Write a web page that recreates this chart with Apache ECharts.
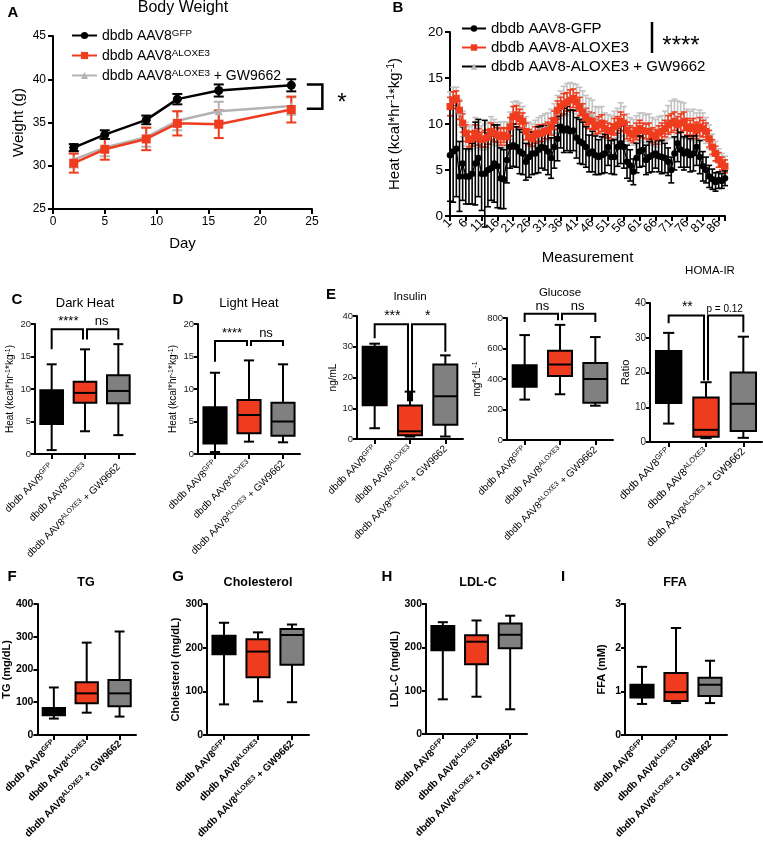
<!DOCTYPE html>
<html><head><meta charset="utf-8">
<script src="https://cdn.jsdelivr.net/npm/echarts@6/dist/echarts.min.js"></script>
<style>html,body{margin:0;padding:0;background:#fff}#c{width:763px;height:842px}</style>
</head><body><div id="c"></div><script>
const FF = '"Liberation Sans", Arial, Helvetica, sans-serif';
const RED = '#f03c1e';
const GREYBOX = '#808080';
const GREYLINE = '#b3b3b3';

// ---------- Panel A: Body weight ----------
const A_days = [2, 5, 9, 12, 16, 23];
const A_gfp = [32.1, 33.6, 35.3, 37.7, 38.7, 39.3];
const A_gfpErr = [0.4, 0.5, 0.5, 0.6, 0.7, 0.7];
const A_alox = [30.3, 31.9, 33.1, 34.9, 34.8, 36.5];
const A_aloxErr = [1.1, 1.2, 1.3, 1.4, 1.6, 1.5];
const A_gw = [30.7, 32.1, 33.3, 35.2, 36.3, 36.9];
const A_gwErr = [0.9, 1.0, 1.1, 1.1, 1.1, 1.0];
const A_sig = [[24.5, 26, 39.4, 36.6]];

// ---------- Panel B: Heat over measurements ----------
const B_measure = Array.from({length: 88}, (_, i) => String(i + 1));
const B_gfp = [
 6.6,7.0,7.3,4.3,5.7,4.3,4.3,4.6,5.7,6.3,
 4.6,4.6,5.0,5.2,5.7,5.4,4.1,4.0,6.1,7.5,
 7.7,7.5,7.0,6.8,5.9,6.4,6.8,6.8,7.2,7.5,
 7.4,7.0,6.3,7.5,8.4,9.7,9.3,9.5,9.2,9.3,
 8.5,8.1,7.9,7.5,6.8,7.0,6.6,6.4,6.6,6.8,
 7.5,6.4,6.4,7.5,7.9,7.5,5.9,5.5,4.8,6.3,
 7.0,7.2,6.1,6.4,6.6,6.8,6.5,6.4,6.3,5.9,
 5.0,6.8,7.9,7.2,6.8,7.0,6.6,6.8,7.5,6.4,
 5.4,5.0,4.3,4.0,3.7,3.9,3.8,4.1];
const B_gfpErr = [
 5.0,5.5,5.2,3.8,4.0,3.0,3.0,3.3,4.5,4.2,
 4.0,5.8,4.0,3.5,4.2,4.5,3.3,3.2,2.5,2.3,
 2.3,2.2,2.4,2.3,2.0,2.2,2.3,2.2,2.5,2.3,
 2.4,2.5,2.2,2.3,2.4,2.3,2.4,2.4,2.3,2.2,
 2.2,2.4,2.3,2.2,2.0,2.2,2.1,1.9,2.0,2.1,
 2.0,1.8,1.9,2.1,2.2,2.3,1.8,1.7,1.4,1.6,
 1.7,1.8,1.6,1.7,1.8,1.6,1.7,1.8,1.6,1.5,
 1.4,1.8,2.0,1.9,1.8,1.7,1.8,1.9,2.0,1.8,
 1.6,1.4,1.2,1.1,1.0,0.9,0.8,0.8];
const B_alox = [
 11.9,12.6,12.8,11.5,10.1,9.0,8.3,8.4,9.0,8.6,
 8.3,8.4,8.6,9.2,9.0,8.8,8.6,8.8,8.6,9.7,
 10.8,11.0,10.6,10.3,9.2,8.6,8.4,8.8,9.0,9.0,
 9.2,9.3,9.7,10.4,11.5,11.9,12.2,12.4,12.6,12.8,
 12.4,11.9,11.3,10.8,10.4,10.3,9.7,9.9,10.1,9.5,
 9.3,9.2,9.7,9.9,10.3,10.1,9.3,9.0,8.8,9.2,
 9.5,9.3,9.2,9.2,8.8,8.6,9.0,9.2,9.5,9.9,
 10.1,10.3,9.9,10.1,10.3,9.7,9.5,9.7,9.3,9.7,
 9.5,9.2,8.4,7.5,6.8,6.1,5.7,5.4];
const B_aloxErr = [
 1.0,0.9,0.8,1.0,1.0,0.9,0.8,0.8,0.9,0.9,
 0.8,0.9,0.8,0.9,0.9,0.8,0.9,0.8,0.9,1.0,
 1.1,1.0,1.0,0.9,0.9,0.8,0.8,0.9,0.9,0.9,
 0.8,0.9,0.9,1.0,1.0,1.0,1.1,1.0,1.1,1.0,
 1.0,1.0,0.9,0.9,0.9,0.9,0.8,0.9,0.9,0.8,
 0.8,0.8,0.9,0.9,1.0,0.9,0.9,0.8,0.8,0.9,
 0.9,0.8,0.8,0.9,0.8,0.8,0.8,0.9,0.9,1.0,
 1.0,1.0,0.9,1.0,1.0,0.9,0.9,0.9,0.9,1.0,
 0.9,0.9,0.9,0.8,0.8,0.8,0.7,0.7];
const B_gw = [
 12.2,12.8,12.9,11.3,10.0,8.9,8.4,8.6,9.2,8.8,
 8.5,8.6,8.8,9.3,9.1,8.9,8.8,8.9,8.8,9.8,
 10.9,11.1,10.9,10.5,9.5,8.9,8.7,9.0,9.3,9.4,
 9.6,9.7,10.0,10.6,11.6,12.1,12.5,12.7,12.9,12.9,
 12.7,12.3,11.9,11.5,11.1,11.0,10.4,10.3,10.4,9.8,
 9.6,9.4,9.9,10.1,10.5,10.3,9.6,9.3,9.1,9.4,
 9.7,9.6,9.5,9.5,9.2,9.0,9.3,9.5,9.8,10.2,
 10.5,10.6,10.3,10.4,10.5,10.0,9.8,9.9,9.6,9.9,
 9.7,9.3,8.6,7.7,7.0,6.3,5.9,5.6];
const B_gwErr = [
 1.3,1.2,1.1,1.4,1.4,1.3,1.3,1.3,1.5,1.4,
 1.3,1.4,1.4,1.5,1.4,1.3,1.4,1.3,1.4,1.5,
 1.5,1.4,1.4,1.4,1.3,1.3,1.3,1.4,1.4,1.5,
 1.5,1.5,1.6,1.6,1.5,1.5,1.6,1.7,1.6,1.5,
 1.6,1.7,1.7,1.6,1.7,1.6,1.5,1.5,1.5,1.4,
 1.4,1.5,1.5,1.6,1.8,1.6,1.5,1.4,1.4,1.5,
 1.5,1.6,1.5,1.6,1.5,1.5,1.5,1.4,1.6,1.8,
 2.0,2.1,2.2,2.0,1.8,1.6,1.6,1.7,1.6,1.6,
 1.5,1.4,1.3,1.2,1.1,1.0,0.9,0.9];

// ---------- Box panels: [min, Q1, median, Q3, max] ----------
const GROUPS = ['GFP', 'ALOXE3', 'ALOXE3 + GW9662'];
const GROUP_LABELS = [['dbdb AAV8', 'GFP', ''], ['dbdb AAV8', 'ALOXE3', ''], ['dbdb AAV8', 'ALOXE3', ' + GW9662']];
const C_dark = [[0.6, 4.6, 7.3, 9.8, 13.8], [3.5, 7.9, 9.4, 11.1, 16.1], [2.9, 7.8, 9.7, 12.1, 16.9]];
const D_light = [[0.3, 1.6, 4.2, 7.2, 12.5], [1.9, 3.2, 6.0, 8.3, 14.4], [1.8, 2.8, 5.0, 7.9, 13.8]];
const E_insulin = [[3.5, 11.0, 20.0, 30.0, 31.0], [0.8, 1.2, 2.5, 10.9, 15.4], [0.8, 4.6, 13.9, 24.2, 27.2]];
const E_glucose = [[265, 350, 420, 490, 688], [300, 420, 495, 585, 755], [225, 245, 400, 505, 675]];
const E_homa = [[5.3, 11.2, 18.0, 26.2, 31.4], [1.1, 1.5, 3.5, 12.8, 17.2], [1.2, 3.2, 11.0, 20.0, 30.3]];
const F_tg = [[50, 60, 72, 82, 145], [68, 97, 127, 161, 282], [56, 88, 127, 168, 316]];
const G_chol = [[70, 185, 205, 227, 257], [77, 132, 191, 219, 235], [75, 161, 229, 243, 253]];
const H_ldl = [[80, 193, 225, 249, 258], [86, 161, 213, 228, 262], [57, 198, 229, 255, 273]];
const I_ffa = [[0.71, 0.86, 1.0, 1.15, 1.56], [0.73, 0.78, 0.98, 1.42, 2.45], [0.73, 0.89, 1.15, 1.31, 1.70]];

// significance brackets: [x1, x2, top, leg1, leg2]
const C_sig = [[0, 1, 19.2, 16.1, 17.6], [1, 2, 19.2, 17.6, 17.6]];
const C_sigText = ['****', 'ns'];
const D_sig = [[0, 1, 17.4, 14.2, 16.6], [1, 2, 17.4, 16.6, 16.6]];
const D_sigText = ['****', 'ns'];
const E_insSig = [[0, 1, 37.3, 32.8, 12.3], [1, 2, 37.3, 12.3, 28.4]];
const E_insSigText = ['***', '*'];
const E_gluSig = [[0, 1, 828, 774, 785], [1, 2, 828, 785, 774]];
const E_gluSigText = ['ns', 'ns'];
const E_homaSig = [[0, 1, 36.4, 34.2, 17.7], [1, 2, 36.4, 17.7, 31.6]];
const E_homaSigText = ['**', 'p = 0.12'];

const BOX_COLORS = ['#000000', RED, GREYBOX];

// ---------- helpers ----------
function supRich(fs, bold) {
  const w = bold ? 'bold' : 'normal';
  const sfs = Math.round(fs * 0.7 * 10) / 10;
  return {
    n: {fontSize: fs, fontWeight: w, fontFamily: FF, color: '#000', lineHeight: fs + 1, verticalAlign: 'bottom'},
    s: {fontSize: sfs, fontWeight: w, fontFamily: FF, color: '#000', lineHeight: sfs, verticalAlign: 'top', padding: [0, 0, Math.round(fs * 0.5), 0]}
  };
}
function groupLabel(idx) {
  const g = GROUP_LABELS[idx];
  let s = '{n|' + g[0] + '}{s|' + g[1] + '}';
  if (g[2]) s += '{n|' + g[2] + '}';
  return s;
}
function st(c, w) { return {stroke: c || '#000', lineWidth: w || 2, fill: null}; }

function errRender(capW, color, lw) {
  return function (params, api) {
    const x = api.value(0);
    const lo = api.coord([x, api.value(1)]);
    const hi = api.coord([x, api.value(2)]);
    return {type: 'group', children: [
      {type: 'line', shape: {x1: lo[0], y1: lo[1], x2: hi[0], y2: hi[1]}, style: st(color, lw)},
      {type: 'line', shape: {x1: hi[0] - capW / 2, y1: hi[1], x2: hi[0] + capW / 2, y2: hi[1]}, style: st(color, lw)},
      {type: 'line', shape: {x1: lo[0] - capW / 2, y1: lo[1], x2: lo[0] + capW / 2, y2: lo[1]}, style: st(color, lw)}
    ]};
  };
}
function boxRender(params, api) {
  const i = api.value(0);
  const band = api.size([1, 0])[0];
  const bw = band * 0.68, cw = band * 0.3;
  const pmin = api.coord([i, api.value(1)]), pq1 = api.coord([i, api.value(2)]),
        pmed = api.coord([i, api.value(3)]), pq3 = api.coord([i, api.value(4)]),
        pmax = api.coord([i, api.value(5)]);
  const cx = pmin[0];
  return {type: 'group', children: [
    {type: 'line', shape: {x1: cx, y1: pmax[1], x2: cx, y2: pq3[1]}, style: st()},
    {type: 'line', shape: {x1: cx, y1: pq1[1], x2: cx, y2: pmin[1]}, style: st()},
    {type: 'line', shape: {x1: cx - cw / 2, y1: pmax[1], x2: cx + cw / 2, y2: pmax[1]}, style: st()},
    {type: 'line', shape: {x1: cx - cw / 2, y1: pmin[1], x2: cx + cw / 2, y2: pmin[1]}, style: st()},
    {type: 'rect', shape: {x: cx - bw / 2, y: pq3[1], width: bw, height: pq1[1] - pq3[1]}, style: {fill: BOX_COLORS[i], stroke: '#000', lineWidth: 2}},
    {type: 'line', shape: {x1: cx - bw / 2, y1: pmed[1], x2: cx + bw / 2, y2: pmed[1]}, style: st()}
  ]};
}
function bracketRender(texts, fss) {
  return function (params, api) {
    const x1 = api.value(0), x2 = api.value(1), yt = api.value(2), l1 = api.value(3), l2 = api.value(4);
    const s1 = x1 === 1 ? 2 : 0, s2 = x2 === 1 ? -2 : 0;
    const a = api.coord([x1, l1]), b = api.coord([x1, yt]), c = api.coord([x2, yt]), d = api.coord([x2, l2]);
    const fs = fss[params.dataIndex];
    return {type: 'group', children: [
      {type: 'polyline', shape: {points: [[a[0] + s1, a[1]], [b[0] + s1, b[1]], [c[0] + s2, c[1]], [d[0] + s2, d[1]]]}, style: st('#000', 2)},
      {type: 'text', style: {text: texts[params.dataIndex], x: (b[0] + c[0]) / 2, y: b[1] - 1, align: 'center', verticalAlign: 'bottom', fontSize: fs, fontFamily: FF, fill: '#000'}}
    ]};
  };
}
function aBracketRender(params, api) {
  const x1 = api.value(0), x2 = api.value(1), yt = api.value(2), yb = api.value(3);
  const p1 = api.coord([x1, yt]), p2 = api.coord([x2, yt]), p3 = api.coord([x2, yb]), p4 = api.coord([x1, yb]);
  return {type: 'group', children: [
    {type: 'polyline', shape: {points: [p1, p2, p3, p4]}, style: st('#000', 2.5)},
    {type: 'text', style: {text: '*', x: p2[0] + 15, y: (p2[1] + p3[1]) / 2 + 7, align: 'left', verticalAlign: 'middle', fontSize: 24, fontFamily: FF, fill: '#000'}}
  ]};
}

// ---------- layout ----------
const grids = [
  {left: 53, top: 36, width: 259, height: 173},   // A
  {left: 450, top: 32, width: 275, height: 184}   // B
];
const xAxes = [], yAxes = [], series = [];
const axisLine = {show: true, lineStyle: {color: '#000', width: 2}};

// A axes
xAxes.push({type: 'value', gridIndex: 0, min: 0, max: 25, interval: 5, splitLine: {show: false},
  axisLine: axisLine, axisTick: {show: true, length: 5, lineStyle: {width: 2, color: '#000'}},
  axisLabel: {fontSize: 12, color: '#000', fontFamily: FF, margin: 7},
  name: 'Day', nameLocation: 'middle', nameGap: 27, nameTextStyle: {fontSize: 15, fontFamily: FF, color: '#000'}});
yAxes.push({type: 'value', gridIndex: 0, min: 25, max: 45, interval: 5, splitLine: {show: false},
  axisLine: axisLine, axisTick: {show: true, length: 5, lineStyle: {width: 2, color: '#000'}},
  axisLabel: {fontSize: 12, color: '#000', fontFamily: FF, margin: 7},
  name: 'Weight (g)', nameLocation: 'middle', nameGap: 27, nameRotate: 90, nameTextStyle: {fontSize: 15, fontFamily: FF, color: '#000'}});

// B axes
xAxes.push({type: 'category', gridIndex: 1, data: B_measure, boundaryGap: false,
  axisLine: axisLine, axisTick: {show: true, length: 5, lineStyle: {width: 2, color: '#000'}, interval: 4},
  axisLabel: {interval: 0, formatter: (v, i) => (i % 5 === 0 ? v : ''), rotate: 45, fontSize: 12.5, color: '#000', fontFamily: FF, margin: 5},
  name: 'Measurement', nameLocation: 'middle', nameGap: 34, nameTextStyle: {fontSize: 15, fontFamily: FF, color: '#000'}});
yAxes.push({type: 'value', gridIndex: 1, min: 0, max: 20, interval: 5, splitLine: {show: false},
  axisLine: axisLine, axisTick: {show: true, length: 5, lineStyle: {width: 2, color: '#000'}},
  axisLabel: {fontSize: 13.5, color: '#000', fontFamily: FF, margin: 7},
  name: '{n|Heat (kcal*hr}{s|-1}{n|*kg}{s|-1}{n|)}', nameLocation: 'middle', nameGap: 48, nameRotate: 90,
  nameTextStyle: {fontSize: 15, fontFamily: FF, color: '#000', rich: supRich(15, false)}});

// A series
function aSeries(name, vals, errs, color, symbol, symSize, errColor) {
  series.push({type: 'custom', xAxisIndex: 0, yAxisIndex: 0, renderItem: errRender(10, errColor, 2),
    data: A_days.map((d, i) => [d, vals[i] - errs[i], vals[i] + errs[i]]), encode: {x: 0, y: [1, 2]}, silent: true});
  series.push({type: 'line', name: name, xAxisIndex: 0, yAxisIndex: 0, data: A_days.map((d, i) => [d, vals[i]]),
    symbol: symbol, symbolSize: symSize, showSymbol: true, lineStyle: {color: color, width: 2.5}, itemStyle: {color: color}, silent: true, animation: false});
}
aSeries('A_gw', A_gw, A_gwErr, GREYLINE, 'triangle', 8, GREYLINE);
aSeries('A_alox', A_alox, A_aloxErr, RED, 'rect', 9, RED);
aSeries('A_gfp', A_gfp, A_gfpErr, '#000', 'circle', 9, '#000');
series.push({type: 'custom', xAxisIndex: 0, yAxisIndex: 0, renderItem: aBracketRender, data: A_sig, encode: {x: [0, 1], y: [2, 3]}, silent: true, clip: false});

// B series
function bSeries(name, vals, errs, color, symbol, symSize, errColor) {
  series.push({type: 'custom', xAxisIndex: 1, yAxisIndex: 1, renderItem: errRender(6, errColor, 1.6),
    data: vals.map((v, i) => [i, v - errs[i], v + errs[i]]), encode: {x: 0, y: [1, 2]}, silent: true});
  series.push({type: 'line', name: name, xAxisIndex: 1, yAxisIndex: 1, data: vals,
    symbol: symbol, symbolSize: symSize, showSymbol: true, showAllSymbol: true, lineStyle: {color: color, width: 1.3}, itemStyle: {color: color}, silent: true, animation: false});
}
bSeries('dbdb AAV8-ALOXE3 + GW9662', B_gw, B_gwErr, '#b8b8b8', 'triangle', 6, '#c4c4c4');
bSeries('dbdb AAV8-ALOXE3', B_alox, B_aloxErr, RED, 'rect', 7, RED);
bSeries('dbdb AAV8-GFP', B_gfp, B_gfpErr, '#000', 'circle', 6.5, '#000');

// box panels
const HEAT = '{n|Heat (kcal*hr}{s|-1}{n|*kg}{s|-1}{n|)}';
const boxPanels = [
  {data: C_dark, sig: C_sig, sigText: C_sigText, sigFs: [13, 13], grid: {left: 35, top: 324, width: 100, height: 130}, y: [0, 20, 5], name: HEAT, gap: 17, bold: false, tickFs: 9.5, labFs: 10, nameFs: 10, lm: 11},
  {data: D_light, sig: D_sig, sigText: D_sigText, sigFs: [13, 13], grid: {left: 198, top: 324, width: 102, height: 130}, y: [0, 20, 5], name: HEAT, gap: 15, bold: false, tickFs: 9.5, labFs: 10, nameFs: 10, lm: 8},
  {data: E_insulin, sig: E_insSig, sigText: E_insSigText, sigFs: [14, 14], grid: {left: 357, top: 316, width: 106, height: 123}, y: [0, 40, 10], name: '{n|ng/mL}', gap: 19, bold: false, tickFs: 9.5, labFs: 10, nameFs: 10, lm: 8},
  {data: E_glucose, sig: E_gluSig, sigText: E_gluSigText, sigFs: [13, 13], grid: {left: 507, top: 318, width: 106, height: 122}, y: [0, 800, 200], name: '{n|mg*dL}{s|-1}', gap: 17, bold: false, tickFs: 9.5, labFs: 10, nameFs: 10, lm: 8},
  {data: E_homa, sig: E_homaSig, sigText: E_homaSigText, sigFs: [14, 10], grid: {left: 650, top: 303, width: 112, height: 139}, y: [0, 40, 10], name: '{n|Ratio}', gap: 13, bold: false, tickFs: 10, labFs: 10.5, nameFs: 11, lm: 8},
  {data: F_tg, grid: {left: 33, top: 604, width: 103, height: 131}, y: [0, 400, 100], name: '{n|TG (mg/dL)}', gap: 23, bold: true, tickFs: 10.5, labFs: 10, nameFs: 11, lm: 7},
  {data: G_chol, grid: {left: 207, top: 604, width: 102, height: 131}, y: [0, 300, 100], name: '{n|Cholesterol (mg/dL)}', gap: 22, bold: true, tickFs: 10.5, labFs: 10, nameFs: 11, lm: 7},
  {data: H_ldl, grid: {left: 426, top: 604, width: 101, height: 130}, y: [0, 300, 100], name: '{n|LDL-C (mg/dL)}', gap: 24, bold: true, tickFs: 10.5, labFs: 10, nameFs: 11, lm: 7},
  {data: I_ffa, grid: {left: 625, top: 604, width: 102, height: 131}, y: [0, 3, 1], name: '{n|FFA (mM)}', gap: 18, bold: true, tickFs: 10.5, labFs: 10, nameFs: 11, lm: 7}
];
boxPanels.forEach((p) => {
  const gi = grids.length;
  grids.push(p.grid);
  const w = p.bold ? 'bold' : 'normal';
  xAxes.push({type: 'category', gridIndex: gi, data: GROUPS, boundaryGap: true,
    axisLine: axisLine, axisTick: {show: true, alignWithLabel: true, length: 5, lineStyle: {width: 2, color: '#000'}},
    axisLabel: {rotate: 45, interval: 0, margin: p.lm, formatter: (v, i) => groupLabel(i), rich: supRich(p.labFs, p.bold), fontSize: p.labFs, fontFamily: FF}});
  yAxes.push({type: 'value', gridIndex: gi, min: p.y[0], max: p.y[1], interval: p.y[2], splitLine: {show: false},
    axisLine: axisLine, axisTick: {show: true, length: 4, lineStyle: {width: 2, color: '#000'}},
    axisLabel: {fontSize: p.tickFs, color: p.bold ? '#000' : '#222', fontWeight: w, fontFamily: FF, margin: 4},
    name: p.name, nameLocation: 'middle', nameGap: p.gap, nameRotate: 90,
    nameTextStyle: {fontSize: p.nameFs, fontFamily: FF, fontWeight: w, color: '#000', rich: supRich(p.nameFs, p.bold)}});
  series.push({type: 'custom', xAxisIndex: gi, yAxisIndex: gi, renderItem: boxRender,
    data: p.data.map((d, i) => [i].concat(d)), encode: {x: 0, y: [1, 2, 3, 4, 5]}, silent: true});
  if (p.sig) {
    series.push({type: 'custom', xAxisIndex: gi, yAxisIndex: gi, renderItem: bracketRender(p.sigText, p.sigFs),
      data: p.sig, encode: {x: [0, 1], y: [2, 3, 4]}, silent: true, clip: false});
  }
});

// titles & letters
function txt(t, x, y, fs, bold, align) {
  return {type: 'text', x: x, y: y, style: {text: t, fontSize: fs, fontWeight: bold ? 'bold' : 'normal', fontFamily: FF, fill: '#000', align: align || 'center', verticalAlign: 'middle'}, silent: true};
}
const graphics = [
  txt('Body Weight', 183, 8, 16, false),
  txt('Dark Heat', 85, 303, 13, false),
  txt('Light Heat', 249, 303, 13, false),
  txt('Insulin', 410, 297, 11.5, false),
  txt('Glucose', 560, 293, 11.5, false),
  txt('HOMA-IR', 710, 271, 11.5, false),
  txt('TG', 86, 583, 12.5, true),
  txt('Cholesterol', 258, 583, 12.5, true),
  txt('LDL-C', 478, 583, 12.5, true),
  txt('FFA', 675, 583, 12.5, true),
  txt('A', 13, 13, 15, true), txt('B', 398, 8, 15, true), txt('C', 17, 300, 15, true),
  txt('D', 178, 300, 15, true), txt('E', 331, 295, 15, true), txt('F', 12, 577, 15, true),
  txt('G', 178, 577, 15, true), txt('H', 387, 577, 15, true), txt('I', 563, 577, 15, true),
  {type: 'line', shape: {x1: 652, y1: 22, x2: 652, y2: 53}, style: {stroke: '#000', lineWidth: 2.5}, silent: true},
  txt('****', 681, 46, 24, false)
];

const A_LEG = {A_gfp: ['GFP', ''], A_alox: ['ALOXE3', ''], A_gw: ['ALOXE3', ' + GW9662']};
const option = {
  backgroundColor: '#fff',
  animation: false,
  grid: grids,
  xAxis: xAxes,
  yAxis: yAxes,
  series: series,
  graphic: graphics,
  legend: [
    {orient: 'vertical', left: 66, top: 23, itemWidth: 25, itemHeight: 9, itemGap: 3, selectedMode: false,
      data: ['A_gfp', 'A_alox', 'A_gw'],
      formatter: (n) => '{n|dbdb AAV8}{s|' + A_LEG[n][0] + '}' + (A_LEG[n][1] ? '{n|' + A_LEG[n][1] + '}' : ''),
      textStyle: {fontSize: 14, fontFamily: FF, color: '#000', rich: supRich(14, false)}},
    {orient: 'vertical', left: 456, top: 16, itemWidth: 24, itemHeight: 8, itemGap: 4, selectedMode: false,
      data: [{name: 'dbdb AAV8-GFP'}, {name: 'dbdb AAV8-ALOXE3'}, {name: 'dbdb AAV8-ALOXE3 + GW9662', lineStyle: {color: '#000'}}],
      textStyle: {fontSize: 15, fontFamily: FF, color: '#000'}}
  ]
};
const chart = echarts.init(document.getElementById('c'), null, {renderer: 'canvas'});
chart.setOption(option);
</script></body></html>
